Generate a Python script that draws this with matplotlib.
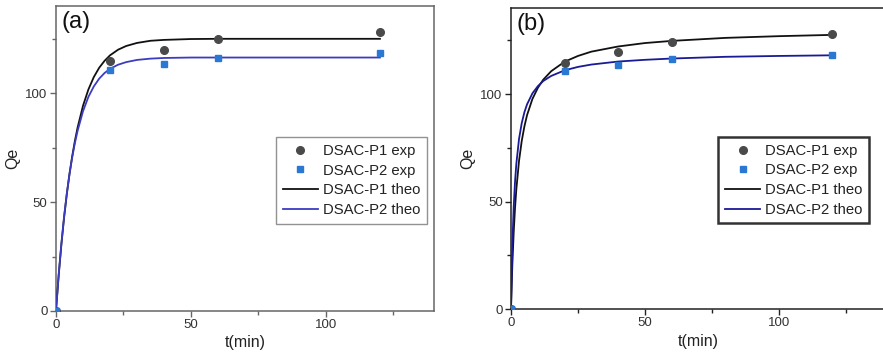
import matplotlib
matplotlib.use("Agg")
import matplotlib.pyplot as plt
from matplotlib.ticker import MultipleLocator

plt.rcParams['font.family'] = ['Liberation Sans', 'DejaVu Sans']

# experimental data
t_exp = [0, 20, 40, 60, 120]
a_p1_exp = [0, 114.6, 120.0, 124.7, 128.3]
a_p2_exp = [0, 110.8, 113.4, 116.4, 118.4]
b_p1_exp = [0, 114.5, 119.7, 124.4, 127.8]
b_p2_exp = [0, 110.8, 113.7, 116.4, 118.1]

# theoretical curves
t_theo_a = [0, 1, 2, 3, 4, 5, 6, 7, 8, 10, 12, 14, 16, 18, 20, 23, 26, 30, 35, 40, 50, 60, 80, 100, 120]
a_p1_theo = [0, 16.3, 30.5, 42.9, 53.6, 62.9, 71.0, 78.1, 84.2, 94.2, 101.7, 107.4, 111.7, 114.9,
             117.4, 120.0, 121.7, 123.1, 124.1, 124.5, 124.9, 125.0, 125.0, 125.0, 125.0]
a_p2_theo = [0, 16.7, 31.0, 43.3, 53.8, 62.8, 70.5, 77.1, 82.7, 91.7, 98.3, 103.1, 106.7, 109.3,
             111.2, 113.1, 114.3, 115.3, 115.9, 116.2, 116.4, 116.4, 116.4, 116.4, 116.4]

t_theo_b = [0, 0.5, 1, 1.5, 2, 3, 4, 5, 6, 8, 10, 12, 15, 20, 25, 30, 40, 50, 60, 80, 100, 120]
b_p1_theo = [0, 20.6, 35.5, 46.9, 55.8, 68.9, 78.1, 84.9, 90.2, 97.7, 102.8, 106.6, 110.6, 115.0,
             117.7, 119.7, 122.1, 123.7, 124.7, 126.1, 126.9, 127.5]
b_p2_theo = [0, 29.4, 47.2, 59.1, 67.6, 79.1, 86.4, 91.5, 95.2, 100.3, 103.6, 106.0, 108.4, 111.0,
             112.6, 113.7, 115.1, 115.9, 116.5, 117.3, 117.7, 118.0]

labels = ['DSAC-P1 exp', 'DSAC-P2 exp', 'DSAC-P1 theo', 'DSAC-P2 theo']
ticks = [0, 50, 100]

fig = plt.figure(figsize=(8.83, 3.62), dpi=100)
ax_a = fig.add_axes([0.0634, 0.141, 0.428, 0.842])
ax_b = fig.add_axes([0.5787, 0.1464, 0.4247, 0.8315])

def style(ax, spine_color, p2_line, p1_exp, p2_exp, t_theo, p1_theo, p2_theo, panel,
          leg_anchor, leg_edge, leg_lw):
    ax.plot(t_exp, p1_exp, 'o', color='#4a4a4a', ms=5.5, label=labels[0], zorder=4)
    ax.plot(t_exp, p2_exp, 's', color='#2a78d2', ms=5, label=labels[1], zorder=4)
    ax.plot(t_theo, p1_theo, '-', color='#111111', lw=1.3, label=labels[2], zorder=3)
    ax.plot(t_theo, p2_theo, '-', color=p2_line, lw=1.3, label=labels[3], zorder=3)
    ax.set_xlim(0, 140)
    ax.set_ylim(0, 140)
    ax.set_xticks(ticks)
    ax.set_yticks(ticks)
    ax.xaxis.set_minor_locator(MultipleLocator(25))
    ax.yaxis.set_minor_locator(MultipleLocator(25))
    ax.tick_params(which='major', direction='out', length=4, width=1, color=spine_color,
                   labelsize=9.5, labelcolor='#333333', pad=2)
    ax.tick_params(which='minor', direction='out', length=3, width=1, color=spine_color)
    for s in ax.spines.values():
        s.set_color(spine_color)
        s.set_linewidth(1.1)
    ax.set_xlabel('t(min)', fontsize=11.5, color='#222222', labelpad=3)
    ax.set_ylabel('Qe', fontsize=11.5, color='#222222', labelpad=4)
    ax.text(0.015, 0.985, panel, transform=ax.transAxes, ha='left', va='top', fontsize=17,
            color='#111111')
    leg = ax.legend(loc='upper left', bbox_to_anchor=leg_anchor, borderaxespad=0,
                    fontsize=10.7, frameon=True, fancybox=False, handlelength=2.4,
                    handletextpad=0.3, borderpad=0.45, labelspacing=0.38)
    leg.get_frame().set_edgecolor(leg_edge)
    leg.get_frame().set_linewidth(leg_lw)
    for txt in leg.get_texts():
        txt.set_color('#222222')

style(ax_a, '#666666', '#3c3cc0', a_p1_exp, a_p2_exp, t_theo_a, a_p1_theo, a_p2_theo, '(a)',
      (0.582, 0.570), '#777777', 1.0)
style(ax_b, '#222222', '#1a1a96', b_p1_exp, b_p2_exp, t_theo_b, b_p1_theo, b_p2_theo, '(b)',
      (0.552, 0.571), '#000000', 1.8)

fig.savefig('out.png', dpi=100)
